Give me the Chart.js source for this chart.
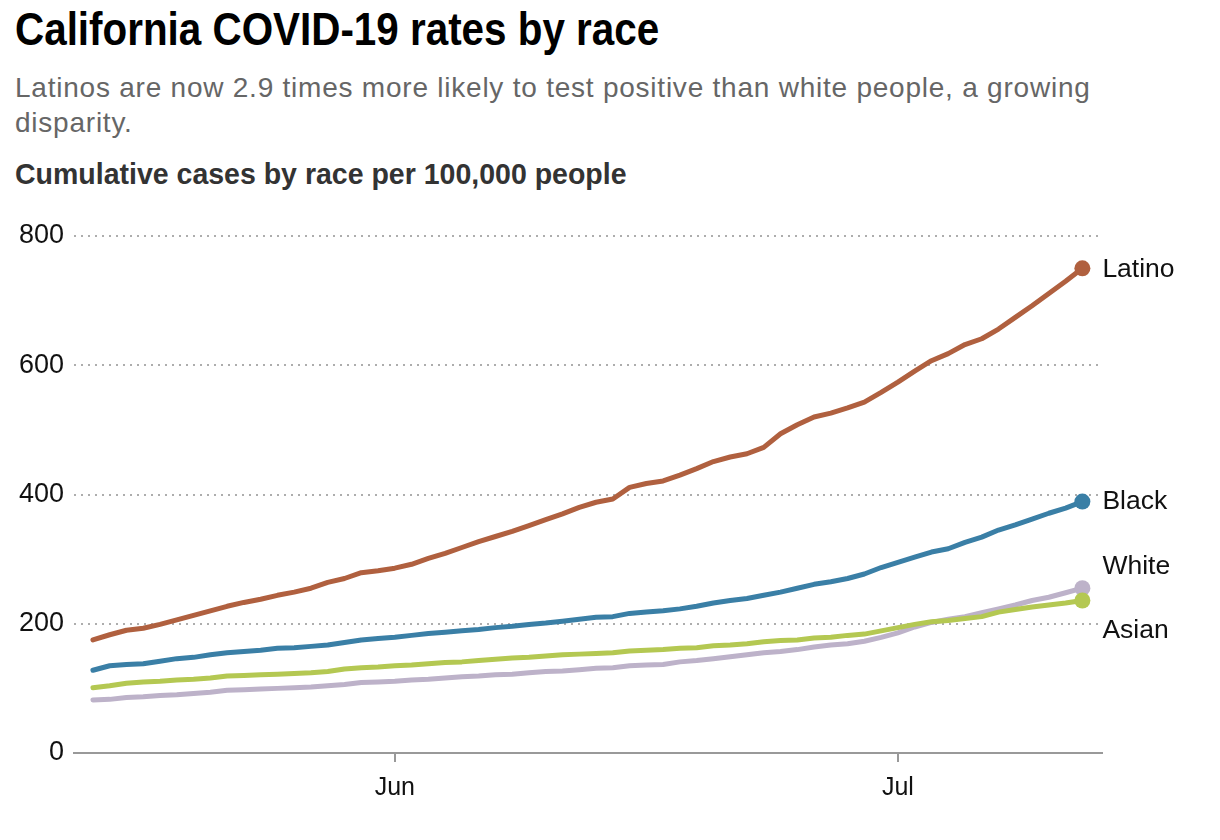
<!DOCTYPE html>
<html>
<head>
<meta charset="utf-8">
<script src="https://cdn.jsdelivr.net/npm/chart.js@4"></script>
<style>
  html, body { margin: 0; padding: 0; background: #fff; }
  body { width: 1220px; height: 840px; position: relative; overflow: hidden; font-family: "Liberation Sans", Arial, sans-serif; }
  #title { position: absolute; left: 15px; top: 2px; font-weight: bold; font-size: 46px; color: #000; white-space: nowrap; transform: scaleX(0.878); transform-origin: left top; }
  #subtitle { position: absolute; left: 15px; top: 70px; font-size: 28px; line-height: 35px; letter-spacing: 0.77px; color: #666; white-space: nowrap; }
  #axistitle { position: absolute; left: 15px; top: 157px; font-weight: bold; font-size: 30px; color: #333; white-space: nowrap; transform: scaleX(0.95); transform-origin: left top; }
  #wrap { position: absolute; left: 0; top: 200px; width: 1220px; height: 640px; }
</style>
</head>
<body>
<div id="title">California COVID-19 rates by race</div>
<div id="subtitle">Latinos are now 2.9 times more likely to test positive than white people, a growing<br>disparity.</div>
<div id="axistitle">Cumulative cases by race per 100,000 people</div>
<div id="wrap"><canvas id="c" width="1220" height="640"></canvas></div>
<script>
// Days counted from May 14, 2020 (day 0) to July 12, 2020 (day 59)
const dates = ['May 14','May 15','May 16','May 17','May 18','May 19','May 20','May 21','May 22','May 23',
  'May 24','May 25','May 26','May 27','May 28','May 29','May 30','May 31','Jun 1','Jun 2',
  'Jun 3','Jun 4','Jun 5','Jun 6','Jun 7','Jun 8','Jun 9','Jun 10','Jun 11','Jun 12',
  'Jun 13','Jun 14','Jun 15','Jun 16','Jun 17','Jun 18','Jun 19','Jun 20','Jun 21','Jun 22',
  'Jun 23','Jun 24','Jun 25','Jun 26','Jun 27','Jun 28','Jun 29','Jun 30','Jul 1','Jul 2',
  'Jul 3','Jul 4','Jul 5','Jul 6','Jul 7','Jul 8','Jul 9','Jul 10','Jul 11','Jul 12'];

const latino = [175,183,190,193,199,206,213,220,227,233,238,244,249,255,264,270,279,282,286,292,
  301,309,318,327,335,343,352,361,370,380,388,393,411,417,421,430,440,451,458,463,
  473,494,508,520,526,534,543,558,574,591,607,618,632,641,656,674,692,711,730,750];
const black = [128,135,137,138,142,146,148,152,155,157,159,162,163,165,167,171,175,177,179,182,
  185,187,189,191,194,196,199,201,204,207,210,211,216,218,220,223,227,232,236,239,
  244,249,255,261,265,270,277,287,295,303,311,316,326,334,345,353,362,371,379,389];
const white = [82,83,86,87,89,90,92,94,97,98,99,100,101,102,104,106,109,110,111,113,
  114,116,118,119,121,122,124,126,127,129,131,132,135,136,137,141,143,146,149,152,
  155,157,160,164,167,169,173,179,186,195,202,207,211,217,223,229,236,241,248,255];
const asian = [101,104,108,110,111,113,114,116,119,120,121,122,123,124,126,130,132,133,135,136,
  138,140,141,143,145,147,148,150,152,153,154,155,158,159,160,162,163,166,167,169,
  172,174,175,178,179,182,184,189,194,199,203,205,208,211,218,222,226,229,232,236];

const seriesNames = ['Latino','Black','White','Asian'];
const seriesColors = ['#b0603f','#3a7fa6','#bdb2c9','#b4c852'];
const labelOffsets = [1, 0, -22, 30];

const xTickDays = [18, 48];
const xTickLabels = ['Jun', 'Jul'];
const yTicks = [0, 200, 400, 600, 800];

function pts(arr) { return arr.map((v, i) => ({ x: i, y: v })); }
const seriesData = [latino, black, white, asian];

const datasets = seriesNames.map((n, k) => ({
  label: n,
  data: pts(seriesData[k]),
  borderColor: seriesColors[k],
  backgroundColor: seriesColors[k],
  borderWidth: 5,
  tension: 0,
  borderJoinStyle: 'round',
  borderCapStyle: 'round',
  pointRadius: seriesData[k].map((v, i) => i === seriesData[k].length - 1 ? 8 : 0),
  pointHoverRadius: 0,
  pointBorderWidth: 0,
  order: k === 1 ? 0 : (k === 0 ? 1 : (k === 2 ? 3 : 2))
}));

const endLabels = {
  id: 'endLabels',
  afterDatasetsDraw(chart) {
    const ctx = chart.ctx;
    ctx.save();
    ctx.font = '26.5px "Liberation Sans", Arial, sans-serif';
    ctx.fillStyle = '#111';
    ctx.textBaseline = 'middle';
    ctx.textAlign = 'left';
    chart.data.datasets.forEach((ds, k) => {
      const meta = chart.getDatasetMeta(k);
      const p = meta.data[meta.data.length - 1];
      ctx.fillText(ds.label, p.x + 20, p.y + labelOffsets[k]);
    });
    ctx.restore();
  }
};

new Chart(document.getElementById('c'), {
  type: 'line',
  data: { datasets },
  plugins: [endLabels],
  options: {
    responsive: false,
    animation: false,
    events: [],
    layout: { padding: { left: 0, right: 118, top: 36, bottom: 0 } },
    plugins: { legend: { display: false }, tooltip: { enabled: false } },
    scales: {
      x: {
        type: 'linear',
        min: -1.13,
        max: 60.17,
        afterBuildTicks: s => { s.ticks = xTickDays.map(v => ({ value: v })); },
        afterFit: s => { s.height = 87; },
        ticks: {
          autoSkip: false,
          maxRotation: 0,
          padding: 11,
          color: '#111',
          font: { family: '"Liberation Sans", Arial, sans-serif', size: 25 },
          callback: v => { const i = xTickDays.indexOf(v); return i >= 0 ? xTickLabels[i] : ''; }
        },
        grid: { drawOnChartArea: false, drawTicks: true, tickLength: 9, color: '#999', lineWidth: 2 },
        border: { display: true, color: '#999', width: 2 }
      },
      y: {
        min: 0,
        max: 800,
        afterBuildTicks: s => { s.ticks = yTicks.map(v => ({ value: v })); },
        afterFit: s => { s.width = 74; },
        ticks: {
          padding: 10,
          color: '#111',
          font: { family: '"Liberation Sans", Arial, sans-serif', size: 27 },
          callback: v => String(v)
        },
        grid: {
          drawTicks: false,
          color: c => c.tick && c.tick.value === 0 ? 'rgba(0,0,0,0)' : '#adadad',
          lineWidth: 2
        },
        border: { display: false, dash: [2, 5] }
      }
    }
  }
});
</script>
</body>
</html>
